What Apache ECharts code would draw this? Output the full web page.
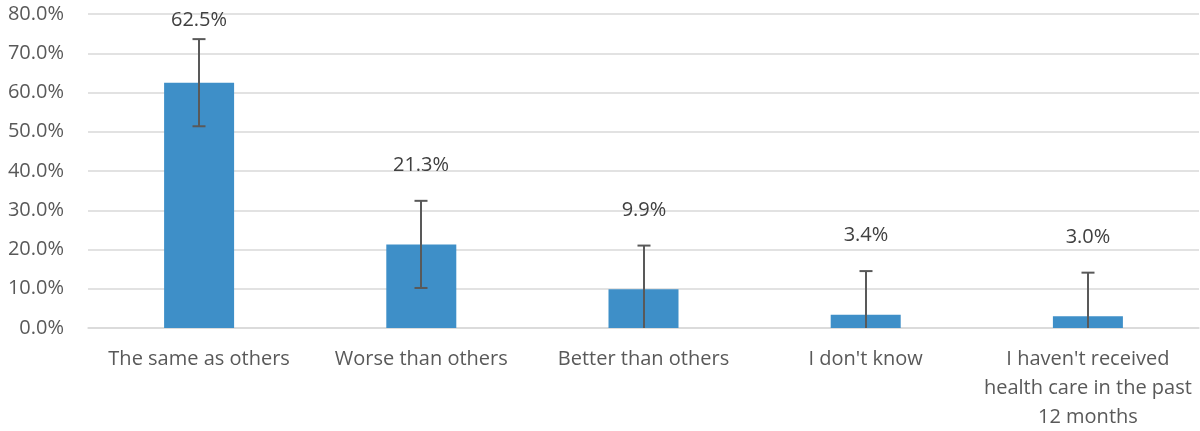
<!DOCTYPE html>
<html>
<head>
<meta charset="utf-8">
<script src="https://cdn.jsdelivr.net/npm/echarts@6/dist/echarts.min.js"></script>
<style>
  html, body { margin: 0; padding: 0; background: #fff; }
  #chart { width: 1200px; height: 431px; }
</style>
</head>
<body>
<div id="chart"></div>
<script>
// data
const categories = [
  'The same as others',
  'Worse than others',
  'Better than others',
  "I don't know",
  "I haven't received\nhealth care in the past\n12 months"
]
const values = [62.5, 21.3, 9.9, 3.4, 3.0]
// +/- error margin (percentage points)
const errors = [11.1, 11.1, 11.1, 11.1, 11.1]
const yMin = 0
const yMax = 80
const yStep = 10

const textColor = '#595959'
const fontFamily = '"Open Sans", "Liberation Sans", sans-serif'

const chart = echarts.init(document.getElementById('chart'))

// error bar + value label, drawn per category
const renderErr = function (params, api) {
  const i = api.value(0)
  const v = api.value(1)
  const hi = api.value(2)
  const lo = api.value(3)
  const top = api.coord([i, hi])
  const bot = api.coord([i, lo])
  const barTop = api.coord([i, v])
  const x = Math.round(top[0])
  const capW = 6.5
  const st = { stroke: '#595959', lineWidth: 2 }
  const children = [
    { type: 'line', shape: { x1: x, y1: top[1], x2: x, y2: bot[1] }, style: st },
    { type: 'line', shape: { x1: x - capW, y1: top[1], x2: x + capW, y2: top[1] }, style: st }
  ]
  if (lo > 0) {
    children.push({ type: 'line', shape: { x1: x - capW, y1: bot[1], x2: x + capW, y2: bot[1] }, style: st })
  }
  const gridTop = params.coordSys.y
  children.push({
    type: 'text',
    style: {
      x: x,
      y: Math.max(gridTop + 6, barTop[1] - 79),
      text: v.toFixed(1) + '%',
      align: 'center',
      verticalAlign: 'middle',
      fill: '#404040',
      font: '20px ' + fontFamily
    }
  })
  return { type: 'group', children: children }
}

const option = {
  animation: false,
  grid: { left: 88, right: 1, top: 14, bottom: 103, outerBoundsMode: 'none', containLabel: false },
  xAxis: {
    type: 'category',
    data: categories,
    axisTick: { show: false },
    axisLine: { lineStyle: { color: '#d9d9d9', width: 1.5 } },
    axisLabel: {
      interval: 0,
      color: textColor,
      fontSize: 20,
      fontFamily: fontFamily,
      lineHeight: 29,
      margin: 17
    }
  },
  yAxis: {
    type: 'value',
    min: yMin,
    max: yMax,
    interval: yStep,
    axisLine: { show: false },
    axisTick: { show: false },
    splitLine: { lineStyle: { color: '#d9d9d9', width: 1.5 } },
    axisLabel: {
      color: textColor,
      fontSize: 20,
      fontFamily: fontFamily,
      margin: 24,
      formatter: function (v) { return v.toFixed(1) + '%' }
    }
  },
  series: [
    {
      type: 'bar',
      data: values,
      barWidth: 70,
      itemStyle: { color: '#3e8fc8' }
    },
    {
      type: 'custom',
      renderItem: renderErr,
      clip: false,
      z: 5,
      data: values.map((v, i) => [i, v, v + errors[i], Math.max(0, v - errors[i])])
    }
  ]
}

chart.setOption(option)
</script>
</body>
</html>
